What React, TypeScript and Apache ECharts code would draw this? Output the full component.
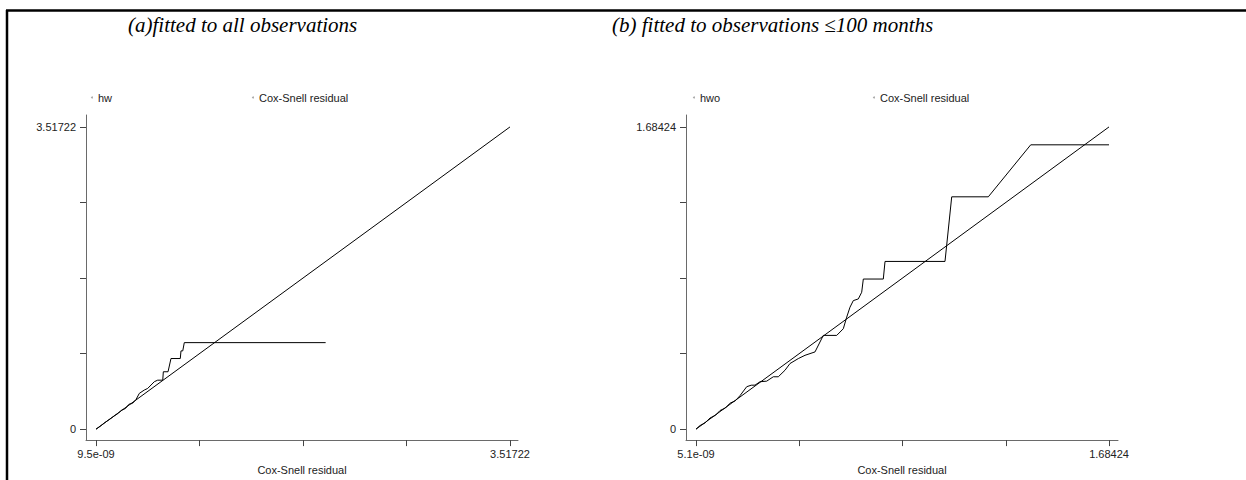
import React, { useEffect, useRef } from "react";
import * as echarts from "echarts";

// ---- data ----
const maxA = 3.51722;
const maxB = 1.68424;
const tickValuesA = [0, maxA / 4, maxA / 2, (3 * maxA) / 4, maxA];
const tickValuesB = [0, maxB / 4, maxB / 2, (3 * maxB) / 4, maxB];
const xTickLabelsA = ["9.5e-09", "3.51722"];
const yTickLabelsA = ["0", "3.51722"];
const xTickLabelsB = ["5.1e-09", "1.68424"];
const yTickLabelsB = ["0", "1.68424"];
const labelValuesA = [0, maxA];
const labelValuesB = [0, maxB];

// panel (a): cumulative hazard hw vs Cox-Snell residual
const hwX = [0, 0.034, 0.0765, 0.119, 0.161, 0.19, 0.215, 0.25, 0.28, 0.31, 0.34, 0.368, 0.41, 0.439, 0.495, 0.524, 0.567, 0.572, 0.612, 0.637, 0.716, 0.722, 0.737, 0.75, 1.951];
const hwY = [0, 0.032, 0.078, 0.118, 0.16, 0.185, 0.22, 0.24, 0.29, 0.3, 0.345, 0.4165, 0.455, 0.474, 0.552, 0.57, 0.57, 0.668, 0.668, 0.822, 0.822, 0.911, 0.911, 1.007, 1.007];
const residA = [9.5e-9, maxA];

// panel (b): cumulative hazard hwo vs Cox-Snell residual
const hwoX = [0, 0.016, 0.037, 0.057, 0.08, 0.098, 0.12, 0.139, 0.16, 0.179, 0.2068, 0.225, 0.2406, 0.261, 0.2883, 0.3152, 0.3356, 0.363, 0.3833, 0.4172, 0.4445, 0.4853, 0.5191, 0.5738, 0.6007, 0.6146, 0.628, 0.6415, 0.6619, 0.6757, 0.6823, 0.7638, 0.7708, 1.0154, 1.0428, 1.192, 1.365, 1.68424];
const hwoY = [0, 0.02, 0.035, 0.062, 0.078, 0.104, 0.118, 0.145, 0.158, 0.186, 0.2366, 0.245, 0.2454, 0.2643, 0.2676, 0.292, 0.292, 0.3285, 0.3657, 0.3934, 0.4116, 0.4305, 0.5225, 0.5225, 0.5596, 0.6244, 0.6798, 0.7164, 0.7258, 0.7629, 0.8366, 0.8366, 0.9347, 0.9347, 1.2948, 1.2948, 1.5845, 1.5845];
const residB = [5.1e-9, maxB];

const titleA = "(a)fitted to all observations";
const titleB = "(b) fitted to observations \u2264100 months";

// axis ranges extend slightly beyond the data so the axis lines stand off the plot (as in Stata)
const xRangeA = [-0.085, 3.5852];
const yRangeA = [-0.1273, 3.6561];
const xRangeB = [-0.0408, 1.7209];
const yRangeB = [-0.0609, 1.7507];

const SANS = "'Liberation Sans', Arial, sans-serif";
const SERIF = "'Liberation Serif', 'DejaVu Serif', serif";

function labelFormatter(values: number[], labels: string[]) {
  return (v: number) => {
    for (let i = 0; i < values.length; i++) if (Math.abs(v - values[i]) < 1e-6) return labels[i];
    return "";
  };
}

function axisFor(kind: "x" | "y", gridIndex: number, range: number[], ticks: number[], labelVals: number[], labels: string[]) {
  const base: any = {
    type: "value",
    gridIndex,
    min: range[0],
    max: range[1],
    axisLine: { show: true, onZero: false, lineStyle: { color: "#6a6a6a", width: 1 } },
    axisTick: { show: true, length: 6, customValues: ticks, lineStyle: { color: "#444", width: 1 } },
    axisLabel: {
      show: true,
      customValues: labelVals,
      margin: kind === "x" ? 8 : 10,
      fontFamily: SANS,
      fontSize: 11,
      color: "#222",
      formatter: labelFormatter(labelVals, labels),
    },
    splitLine: { show: false },
  };
  if (kind === "x") {
    base.name = "Cox-Snell residual";
    base.nameLocation = "middle";
    base.nameGap = 22;
    base.nameTextStyle = { fontFamily: SANS, fontSize: 11, color: "#222" };
  }
  return base;
}

function pairs(xs: number[], ys: number[]) {
  return xs.map((x, i) => [x, ys[i]]);
}

function legendFor(name: string, left: number) {
  return {
    data: [{ name, itemStyle: { color: "#aaa" }, textStyle: { color: "#222" } }],
    left,
    top: 92,
    icon: "circle",
    itemWidth: 2,
    itemHeight: 2,
    itemGap: 0,
    itemStyle: { color: "#aaa" },
    selectedMode: false,
    textStyle: { fontFamily: SANS, fontSize: 11, color: "#222" },
    padding: 0,
  };
}

export default function App() {
  const ref = useRef<HTMLDivElement>(null);
  useEffect(() => {
    if (!ref.current) return;
    const chart = echarts.init(ref.current, null, { renderer: "svg" });
    const lineStyle = { color: "#000", width: 1 };
    const itemStyle = { color: "#000" };
    const titleStyle = { fontFamily: SERIF, fontStyle: "italic", fontWeight: "normal", fontSize: 21, color: "#000" };
    chart.setOption({
      animation: false,
      backgroundColor: "#fff",
      color: ["#000"],
      title: [
        { text: titleA, left: 128, top: 14, padding: 0, textStyle: titleStyle },
        { text: titleB, left: 612, top: 14, padding: 0, textStyle: titleStyle },
      ],
      legend: [
        legendFor("hw", 91),
        legendFor("Cox-Snell residual", 252),
        legendFor("hwo", 693),
        legendFor("Cox-Snell residual", 873),
      ],
      grid: [
        { left: 86, top: 115, width: 432, height: 327 },
        { left: 686, top: 115, width: 432, height: 327 },
      ],
      xAxis: [
        axisFor("x", 0, xRangeA, tickValuesA, labelValuesA, xTickLabelsA),
        axisFor("x", 1, xRangeB, tickValuesB, labelValuesB, xTickLabelsB),
      ],
      yAxis: [
        axisFor("y", 0, yRangeA, tickValuesA, labelValuesA, yTickLabelsA),
        axisFor("y", 1, yRangeB, tickValuesB, labelValuesB, yTickLabelsB),
      ],
      series: [
        { name: "hw", type: "line", xAxisIndex: 0, yAxisIndex: 0, data: pairs(hwX, hwY), showSymbol: false, symbol: "none", lineStyle, itemStyle },
        { name: "Cox-Snell residual", type: "line", xAxisIndex: 0, yAxisIndex: 0, data: pairs(residA, residA), showSymbol: false, symbol: "none", lineStyle, itemStyle },
        { name: "hwo", type: "line", xAxisIndex: 1, yAxisIndex: 1, data: pairs(hwoX, hwoY), showSymbol: false, symbol: "none", lineStyle, itemStyle },
        { name: "Cox-Snell residual", type: "line", xAxisIndex: 1, yAxisIndex: 1, data: pairs(residB, residB), showSymbol: false, symbol: "none", lineStyle, itemStyle },
      ],
      graphic: [
        { type: "line", shape: { x1: 6, y1: 10.5, x2: 1246, y2: 10.5 }, style: { stroke: "#000", lineWidth: 2.5 } },
        { type: "line", shape: { x1: 7, y1: 10, x2: 7, y2: 480 }, style: { stroke: "#000", lineWidth: 2.5 } },
      ],
    });
    return () => chart.dispose();
  }, []);
  return <div ref={ref} style={{ position: "fixed", left: 0, top: 0, width: 1246, height: 480 }} />;
}
